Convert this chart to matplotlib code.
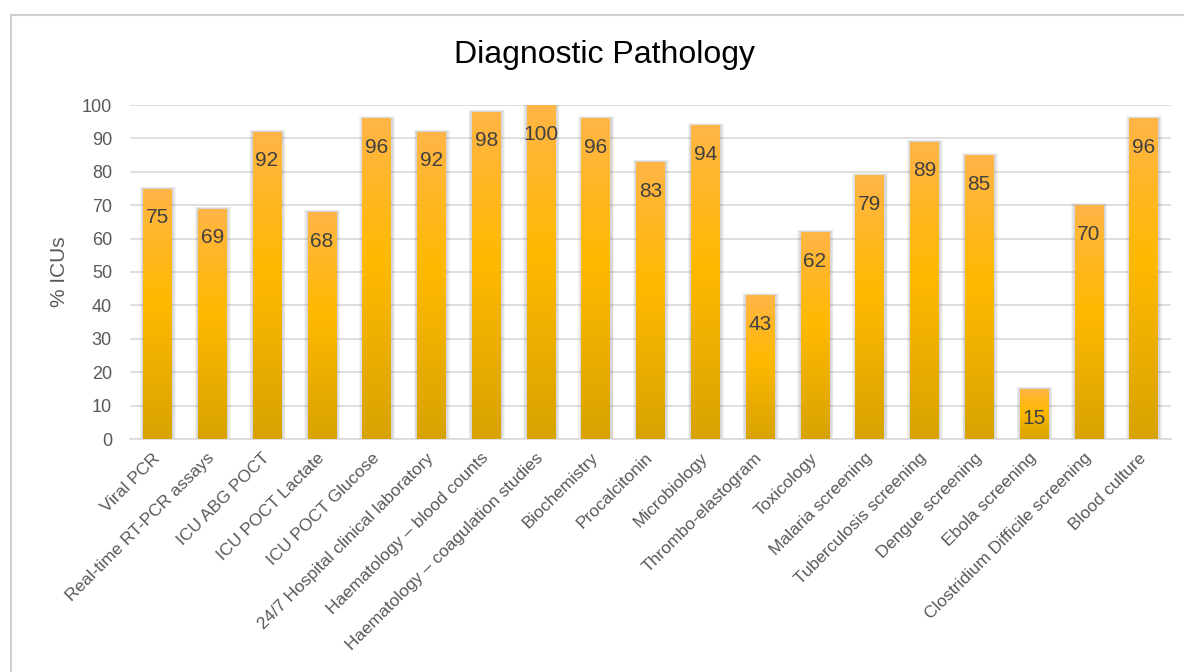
import matplotlib.pyplot as plt
import numpy as np
from matplotlib.colors import LinearSegmentedColormap
from matplotlib.patches import Rectangle

plt.rcParams['font.family'] = ['Liberation Sans', 'DejaVu Sans']

# --- DATA --------------------------- #
categories = [
    "Viral PCR", "Real-time RT-PCR assays", "ICU ABG POCT", "ICU POCT Lactate",
    "ICU POCT Glucose", "24/7 Hospital clinical laboratory",
    "Haematology \u2013 blood counts", "Haematology \u2013 coagulation studies",
    "Biochemistry", "Procalcitonin", "Microbiology", "Thrombo-elastogram",
    "Toxicology", "Malaria screening", "Tuberculosis screening",
    "Dengue screening", "Ebola screening", "Clostridium Difficile screening",
    "Blood culture",
]
values = [75, 69, 92, 68, 96, 92, 98, 100, 96, 83, 94, 43, 62, 79, 89, 85, 15, 70, 96]
yticks = [0, 10, 20, 30, 40, 50, 60, 70, 80, 90, 100]
# ------------------------------------ #

fig = plt.figure(figsize=(11.84, 6.72), dpi=100)
ax = fig.add_axes([130 / 1184, 1 - 439 / 672, 1041 / 1184, 334 / 672])

# outer frame of the chart area
fig.patches.append(Rectangle((11 / 1184, -0.1), 1.2, 1.1 - 15 / 672, transform=fig.transFigure,
                             fill=False, edgecolor='#d0d0d0', lw=1.5))

cmap = LinearSegmentedColormap.from_list('gold', [(0, '#d8a300'), (0.55, '#ffb900'), (1, '#ffb547')])
grad = np.linspace(0, 1, 256).reshape(-1, 1)

x = np.arange(len(values))
width = 0.52
bars = ax.bar(x, values, width=width, color='#ffb900', zorder=3)

# soft shadow around each bar
px_x = 19 / 1041
px_y = 100 / 334
for xi, v in zip(x, values):
    for k in (1, 2, 3, 4):
        ax.add_patch(Rectangle((xi - width / 2 - k * px_x * 0.8, 0), width + k * px_x * 1.6 + px_x,
                               v + k * px_y * 0.5, color='#606060', alpha=0.07, lw=0, zorder=2))

# gradient fill, clipped to each bar
for b, v in zip(bars, values):
    im = ax.imshow(grad, extent=[b.get_x(), b.get_x() + b.get_width(), 0, v], origin='lower',
                   aspect='auto', cmap=cmap, zorder=4)
    im.set_clip_path(b)
    ax.annotate(str(v), (b.get_x() + b.get_width() / 2, v), xytext=(0, -25),
                textcoords='offset points', ha='center', va='baseline',
                fontsize=15, color='#404040', zorder=5)

ax.set_xlim(-0.5, len(values) - 0.5)
ax.set_ylim(0, 100)
ax.set_yticks(yticks)
ax.yaxis.grid(True, color='#d9d9d9', lw=1.2, zorder=0)
ax.set_axisbelow(True)
for s in ['top', 'right', 'left']:
    ax.spines[s].set_visible(False)
ax.spines['bottom'].set_color('#d9d9d9')
ax.spines['bottom'].set_linewidth(1.2)
ax.tick_params(axis='y', length=0, pad=13, labelsize=13, labelcolor='#595959')
ax.tick_params(axis='x', length=0, pad=12)

ax.set_xticks(x)
ax.set_xticklabels(categories, rotation=45, ha='right', va='center', rotation_mode='anchor',
                   fontsize=12.5, color='#595959')

ax.set_ylabel("% ICUs", fontsize=15, color='#595959', labelpad=9)
fig.text(604 / 1184, 1 - 55 / 672, "Diagnostic Pathology", ha='center', va='center',
         fontsize=23, color='#000000')

fig.savefig("out.png", dpi=100, facecolor='white')
